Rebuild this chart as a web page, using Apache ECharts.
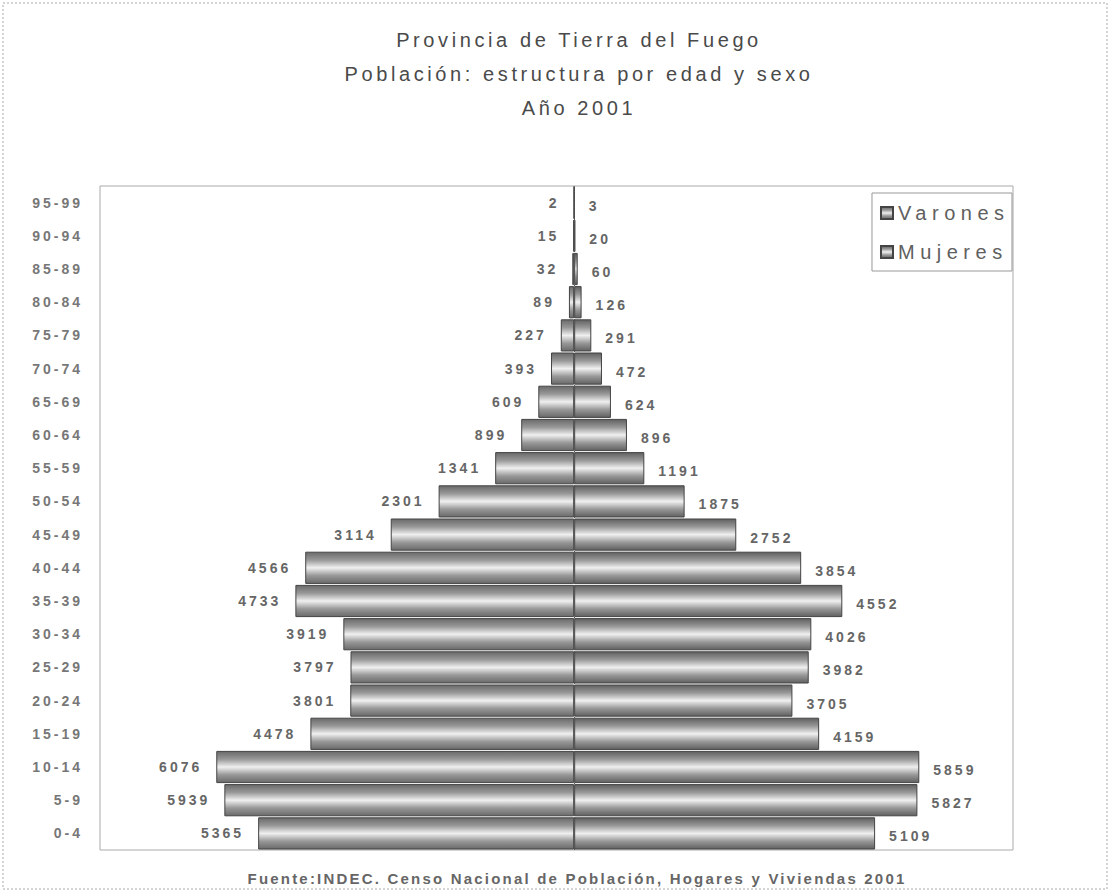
<!DOCTYPE html>
<html>
<head>
<meta charset="utf-8">
<script src="https://cdn.jsdelivr.net/npm/echarts@6/dist/echarts.min.js"></script>
<style>
  html, body { margin: 0; padding: 0; background: #fff; }
  #chart { width: 1110px; height: 892px; }
  /* the original export spreads its glyphs out a lot; marker family names pick the spacing */
  #chart text { letter-spacing: 3px; }
  #chart text[style*="ttlMark"] { letter-spacing: 3.6px; }
  #chart text[style*="srcMark"] { letter-spacing: 2.2px; }
  #chart text[style*="lgdMark"] { letter-spacing: 5.5px; }
</style>
</head>
<body>
<div id="chart"></div>
<script>
const ageGroups = ["0-4", "5-9", "10-14", "15-19", "20-24", "25-29", "30-34", "35-39", "40-44", "45-49",
  "50-54", "55-59", "60-64", "65-69", "70-74", "75-79", "80-84", "85-89", "90-94", "95-99"];
const varones = [5365, 5939, 6076, 4478, 3801, 3797, 3919, 4733, 4566, 3114,
  2301, 1341, 899, 609, 393, 227, 89, 32, 15, 2];
const mujeres = [5109, 5827, 5859, 4159, 3705, 3982, 4026, 4552, 3854, 2752,
  1875, 1191, 896, 624, 472, 291, 126, 60, 20, 3];

const FONT = "'Liberation Sans', Arial, sans-serif";
const fam = mark => `'Liberation Sans', ${mark}, Arial, sans-serif`;

function barFill(edge) {
  return new echarts.graphic.LinearGradient(0, 0, 0, 1, [
    { offset: 0, color: edge },
    { offset: 0.25, color: "#989898" },
    { offset: 0.5, color: "#f0f0f0" },
    { offset: 0.75, color: "#989898" },
    { offset: 1, color: edge }
  ]);
}

const chart = echarts.init(document.getElementById("chart"), null, { renderer: "svg" });
chart.setOption({
  backgroundColor: "#fff",
  animation: false,
  title: [
    {
      text: "Provincia de Tierra del Fuego\nPoblación: estructura por edad y sexo\nAño 2001",
      left: 574, top: 18, textAlign: "center",
      textStyle: { fontFamily: fam("ttlMark"), fontSize: 20, fontWeight: "normal", color: "#4a4a4a", lineHeight: 34 }
    },
    {
      text: "Fuente:INDEC. Censo Nacional de Población, Hogares y Viviendas 2001",
      left: 572, top: 866, textAlign: "center",
      textStyle: { fontFamily: fam("srcMark"), fontSize: 15, fontWeight: "bold", color: "#666" }
    }
  ],
  legend: {
    data: ["Varones", "Mujeres"],
    orient: "vertical",
    right: 98, top: 193,
    itemWidth: 12, itemHeight: 12, itemGap: 19,
    icon: "rect",
    padding: [10, 41, 9, 8],
    borderColor: "#999", borderWidth: 1,
    textStyle: { fontFamily: fam("lgdMark"), fontSize: 20, color: "#606060" }
  },
  graphic: [{
    type: "rect", silent: true, z: -10,
    shape: { x: 3, y: 3, width: 1104, height: 886 },
    style: { fill: "none", stroke: "#aaa", lineWidth: 1, lineDash: [2, 2] }
  }],
  grid: { left: 100, right: 97, top: 186, bottom: 42, show: true, borderColor: "#aaa", borderWidth: 1 },
  xAxis: { type: "value", min: -8050, max: 7450, show: false },
  yAxis: {
    type: "category",
    data: ageGroups,
    axisLine: { show: false, onZero: false },
    axisTick: { show: false },
    axisLabel: { fontFamily: FONT, fontSize: 14, fontWeight: "bold", color: "#777", margin: 17 }
  },
  series: [
    {
      name: "Varones", type: "bar", stack: "pop",
      barCategoryGap: "3%",
      data: varones.map(v => -v),
      itemStyle: { color: barFill("#6a6a6a"), borderColor: "#444", borderWidth: 1 },
      label: {
        show: true, position: "left", distance: 14,
        fontFamily: FONT, fontSize: 14, fontWeight: "bold", color: "#666",
        formatter: p => Math.abs(p.value)
      },
      markLine: {
        silent: true, symbol: "none",
        label: { show: false },
        lineStyle: { color: "#555", type: "dotted", width: 1 },
        data: [{ xAxis: 0 }]
      }
    },
    {
      name: "Mujeres", type: "bar", stack: "pop",
      data: mujeres,
      itemStyle: { color: barFill("#606060"), borderColor: "#444", borderWidth: 1 },
      label: {
        show: true, position: "right", distance: 14, offset: [0, 3],
        fontFamily: FONT, fontSize: 14, fontWeight: "bold", color: "#666"
      }
    }
  ]
});
</script>
</body>
</html>
